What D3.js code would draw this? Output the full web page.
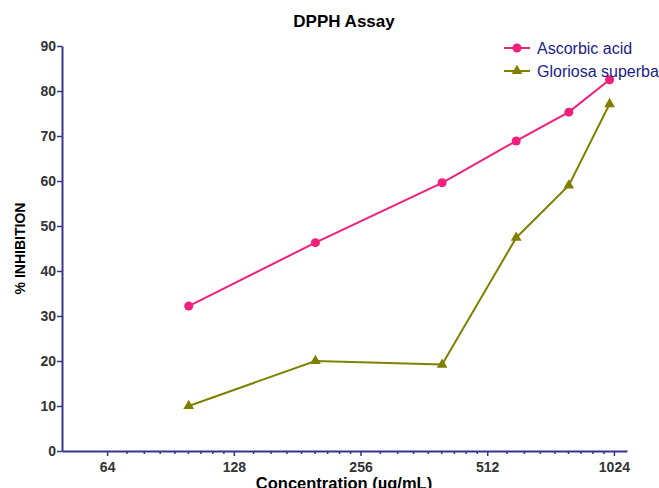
<!DOCTYPE html>
<html>
<head>
<meta charset="utf-8">
<script src="https://cdn.jsdelivr.net/npm/d3@7"></script>
<style>
  body { margin: 0; background: #fff; }
  text { font-family: "Liberation Sans", Arial, sans-serif; }
</style>
</head>
<body>
<div id="chart"></div>
<script>
// Data

const concentrations = [100, 200, 400, 600, 800, 1000]
const ascorbicAcid = [32.2, 46.3, 59.6, 68.9, 75.3, 82.5]
const gloriosaSuperba = [10.0, 20.0, 19.2, 47.4, 59.0, 77.1]
const xTicks = [64, 128, 256, 512, 1024]
const yTicks = [0, 10, 20, 30, 40, 50, 60, 70, 80, 90]

const COLORS = {
  axis: '#35358f',
  tick: '#333333',
  legend: '#1c1c8a',
  ascorbic: '#f21f7c',
  gloriosa: '#808000',
}

const W = 659
const H = 488

const svg = d3.select('#chart').append('svg').attr('width', W).attr('height', H)

const x = d3.scaleLog().base(2).domain([50, 1100]).range([62, 627])
const y = d3.scaleLinear().domain([0, 90]).range([451, 46])

// Axes

const minorTicks = xTicks.slice(0, -1).flatMap(m => d3.range(1, 9).map(k => m * (1 + k / 9)))

const xAxis = svg.append('g')
  .attr('transform', `translate(0,${y(0)})`)
  .call(d3.axisBottom(x).tickValues(xTicks).tickFormat(d3.format('d')).tickSize(5).tickSizeOuter(0))
const xMinor = svg.append('g')
  .attr('transform', `translate(0,${y(0)})`)
  .call(d3.axisBottom(x).tickValues(minorTicks).tickFormat('').tickSize(3).tickSizeOuter(0))
xMinor.select('.domain').remove()

const yAxis = svg.append('g')
  .attr('transform', `translate(${x(50)},0)`)
  .call(d3.axisLeft(y).tickValues(yTicks).tickSize(5).tickSizeOuter(0))

;[xAxis, xMinor, yAxis].forEach(g => {
  g.selectAll('.domain').attr('stroke', COLORS.axis).attr('stroke-width', 2)
  g.selectAll('.tick line').attr('stroke', COLORS.axis).attr('stroke-width', 1.5)
  g.selectAll('.tick text')
    .attr('fill', COLORS.tick)
    .style('font-size', '14px')
    .style('font-weight', 'bold')
    .style('font-family', '"Liberation Sans", Arial, sans-serif')
})
xAxis.selectAll('.tick text').attr('dy', '0.9em')
yAxis.selectAll('.tick text').attr('x', -6)

// Titles

svg.append('text')
  .attr('x', 344).attr('y', 27)
  .attr('text-anchor', 'middle')
  .style('font-size', '17px').style('font-weight', 'bold')
  .text('DPPH Assay')

svg.append('text')
  .attr('transform', `translate(25,${y(45)}) rotate(-90)`)
  .attr('text-anchor', 'middle')
  .style('font-size', '14px').style('font-weight', 'bold')
  .text('% INHIBITION')

svg.append('text')
  .attr('x', 344).attr('y', 489)
  .attr('text-anchor', 'middle')
  .style('font-size', '16.5px').style('font-weight', 'bold')
  .text('Concentration (µg/mL)')

// Series

const series = [
  { name: 'Ascorbic acid', values: ascorbicAcid, color: COLORS.ascorbic, symbol: d3.symbolCircle, size: 64 },
  { name: 'Gloriosa superba', values: gloriosaSuperba, color: COLORS.gloriosa, symbol: d3.symbolTriangle, size: 50 },
]

const line = d3.line().x(d => x(d[0])).y(d => y(d[1]))

series.forEach(s => {
  const pts = concentrations.map((c, i) => [c, s.values[i]])
  svg.append('path')
    .datum(pts)
    .attr('fill', 'none')
    .attr('stroke', s.color)
    .attr('stroke-width', 2)
    .attr('d', line)
  svg.append('g').selectAll('path')
    .data(pts)
    .join('path')
    .attr('transform', d => `translate(${x(d[0])},${y(d[1])})`)
    .attr('fill', s.color)
    .attr('d', d3.symbol(s.symbol, s.size))
})

// Legend

const legend = svg.append('g').attr('transform', 'translate(504,48)')
series.forEach((s, i) => {
  const g = legend.append('g').attr('transform', `translate(0,${i * 23})`)
  g.append('line').attr('x1', 0).attr('x2', 26).attr('stroke', s.color).attr('stroke-width', 2)
  g.append('path').attr('transform', 'translate(13,0)').attr('fill', s.color).attr('d', d3.symbol(s.symbol, s.size))
  g.append('text')
    .attr('x', 33).attr('y', 6)
    .attr('fill', COLORS.legend)
    .style('font-size', '16px')
    .text(s.name)
})
</script>
</body>
</html>
